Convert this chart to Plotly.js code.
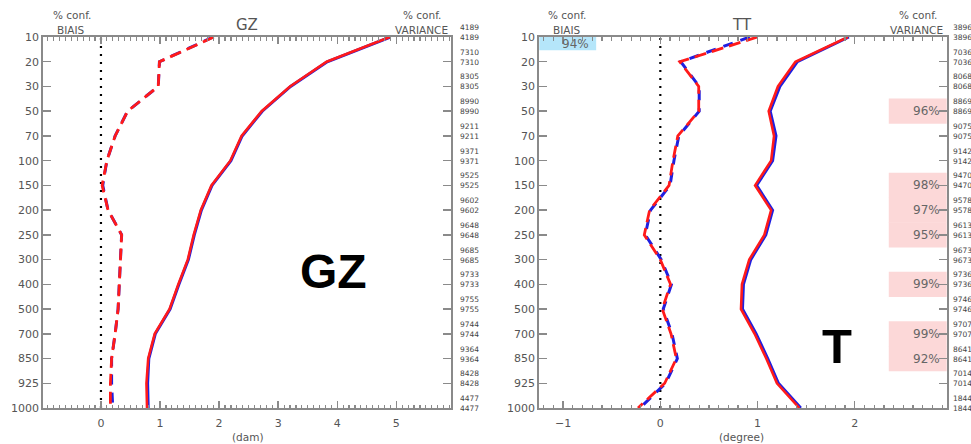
<!DOCTYPE html>
<html>
<head>
<meta charset="utf-8">
<script src="https://cdn.plot.ly/plotly-3.0.1.min.js"></script>
<style>
  html, body { margin: 0; padding: 0; background: #fff; }
  #chart { width: 971px; height: 444px; }
</style>
</head>
<body>
<div id="chart"></div>
<script>
// Pressure levels (hPa), top to bottom
const levels = ['10','20','30','50','70','100','150','200','250','300','400','500','700','850','925','1000'];

// Observation counts per level (two experiments)
const countsGZ = ['4189','7310','8305','8990','9211','9371','9525','9602','9648','9685','9733','9755','9744','9364','8428','4477'];
const countsTT = ['3896','7036','8068','8869','9075','9142','9470','9578','9613','9673','9736','9746','9707','8641','7014','1844'];

// GZ (dam): standard deviation and bias, experiment A (blue) and B (red)
const gzStdBlue  = [4.90, 3.83, 3.21, 2.73, 2.39, 2.20, 1.88, 1.70, 1.58, 1.48, 1.32, 1.17, 0.92, 0.81, 0.79, 0.80];
const gzStdRed   = [4.89, 3.82, 3.20, 2.72, 2.38, 2.19, 1.87, 1.69, 1.57, 1.47, 1.31, 1.16, 0.91, 0.80, 0.77, 0.78];
const gzBiasBlue = [1.90, 0.99, 0.97, 0.45, 0.24, 0.10, 0.03, 0.12, 0.35, 0.33, 0.31, 0.29, 0.24, 0.18, 0.18, 0.20];
const gzBiasRed  = [1.91, 0.99, 0.97, 0.45, 0.24, 0.10, 0.02, 0.12, 0.35, 0.33, 0.31, 0.29, 0.24, 0.18, 0.16, 0.16];

// TT (degree): standard deviation and bias
const ttStdBlue  = [1.94, 1.41, 1.23, 1.13, 1.19, 1.155, 0.99, 1.155, 1.085, 0.93, 0.855, 0.845, 0.985, 1.105, 1.215, 1.445];
const ttStdRed   = [1.93, 1.39, 1.21, 1.115, 1.17, 1.14, 0.975, 1.14, 1.07, 0.915, 0.84, 0.83, 0.97, 1.09, 1.20, 1.43];
const ttBiasBlue = [0.92, 0.21, 0.40, 0.40, 0.19, 0.14, 0.10, -0.10, -0.155, 0.01, 0.115, 0.03, 0.12, 0.175, 0.055, -0.21];
const ttBiasRed  = [1.00, 0.20, 0.395, 0.395, 0.18, 0.13, 0.09, -0.11, -0.165, 0.00, 0.105, 0.02, 0.11, 0.165, 0.045, -0.23];

// Significance of differences for TT (level -> % confidence)
const ttVarConfLevels = ['50','150','200','250','400','700','850'];
const ttVarConfValues = [96, 98, 97, 95, 99, 99, 92];
const ttBiasConfLevels = ['10'];
const ttBiasConfValues = [94];

const levelIndex = levels.map((_, i) => i);
const idx = lv => levels.indexOf(lv);

const BLUE = '#1f1fe0', RED = '#ff1a1a';
const FRAME = '#8a8a8a', TXT = '#555';
const FONT = 'DejaVu Sans, sans-serif';

function line(x, xa, ya, color, dash, w) {
  return {
    x: x, y: levelIndex, xaxis: xa, yaxis: ya, type: 'scatter', mode: 'lines',
    line: { color: color, width: w, dash: dash }, hoverinfo: 'skip', showlegend: false
  };
}

const data = [
  line(gzStdBlue, 'x', 'y', BLUE, 'solid', 3),
  line(gzStdRed, 'x', 'y', RED, 'solid', 2.6),
  line(gzBiasBlue, 'x', 'y', BLUE, '10px,8px', 3),
  line(gzBiasRed, 'x', 'y', RED, '12px,6px', 2.8),
  line(ttStdBlue, 'x2', 'y2', BLUE, 'solid', 3),
  line(ttStdRed, 'x2', 'y2', RED, 'solid', 2.6),
  line(ttBiasBlue, 'x2', 'y2', BLUE, '10px,8px', 3),
  line(ttBiasRed, 'x2', 'y2', RED, '12px,6px', 2.8)
];

function xAxis(domain, range, anchor) {
  return {
    domain: domain, range: range, anchor: anchor,
    tickmode: 'linear', dtick: 1, tick0: 0,
    ticks: 'inside', ticklen: 7, tickwidth: 1.5, tickcolor: FRAME,
    minor: { dtick: 0.1, tick0: 0, ticks: 'inside', ticklen: 3.5, tickwidth: 1.2, tickcolor: FRAME },
    showline: true, linecolor: FRAME, linewidth: 2, mirror: 'ticks',
    showgrid: false, zeroline: false,
    tickfont: { family: FONT, size: 11, color: TXT },
    ticklabelstandoff: 4
  };
}
function yAxis(anchor) {
  return {
    domain: [0, 1], range: [15, 0], anchor: anchor,
    tickmode: 'array', tickvals: levelIndex, ticktext: levels,
    ticks: 'inside', ticklen: 8, tickwidth: 1.5, tickcolor: FRAME,
    showline: true, linecolor: FRAME, linewidth: 2, mirror: 'ticks',
    showgrid: false, zeroline: false,
    tickfont: { family: FONT, size: 11, color: TXT }
  };
}

const shapes = [];
const annotations = [];

// Significance boxes (drawn beneath the curves)
ttVarConfLevels.forEach((lv, k) => {
  const i = idx(lv);
  shapes.push({ type: 'rect', xref: 'x2', yref: 'y2', x0: 2.35, x1: 2.95, y0: i - 0.51, y1: i + 0.51,
    fillcolor: '#fcd8d8', line: { width: 0 }, layer: 'below' });
  annotations.push({ xref: 'x2', yref: 'y2', x: 2.9, y: i, xanchor: 'right', yanchor: 'middle',
    text: ttVarConfValues[k] + '%', showarrow: false, font: { family: FONT, size: 12, color: '#666' } });
});
ttBiasConfLevels.forEach((lv, k) => {
  const i = idx(lv);
  shapes.push({ type: 'rect', xref: 'x2', yref: 'y2', x0: -1.25, x1: -0.66, y0: i - 0.5, y1: i + 0.54,
    fillcolor: '#b5e6fa', line: { width: 0 }, layer: 'below' });
  annotations.push({ xref: 'x2', yref: 'y2', x: -0.71, y: i, xanchor: 'right', yanchor: 'middle', yshift: -7,
    text: ttBiasConfValues[k] + '%', showarrow: false, font: { family: FONT, size: 12, color: '#666' } });
});

// Dotted zero lines
[['x', 'y domain'], ['x2', 'y2 domain']].forEach(([xr, yr]) => {
  shapes.push({ type: 'line', xref: xr, yref: yr, x0: 0, x1: 0, y0: 0, y1: 1,
    line: { color: '#000', width: 2.2, dash: '2px,6px' }, layer: 'below' });
});

// Observation counts on the right of each panel
function counts(arr, xpaper) {
  arr.forEach((c, i) => {
    annotations.push({ xref: 'paper', yref: i < 0 ? 'y' : (xpaper > 0.5 ? 'y2' : 'y'), x: xpaper, y: i,
      xanchor: 'left', yanchor: 'middle', yshift: 4.5, align: 'left',
      text: c + '<br>' + c, showarrow: false, font: { family: FONT, size: 7.5, color: '#444' } });
  });
}
counts(countsGZ, 458 / 971);
counts(countsTT, 951 / 971);

// Panel headers
function header(text, xpx, shift, size) {
  annotations.push({ xref: 'paper', yref: 'paper', x: xpx / 971, y: 1, xanchor: 'center', yanchor: 'middle',
    yshift: shift, text: text, showarrow: false, font: { family: FONT, size: size || 10.5, color: TXT } });
}
header('% conf.', 72, 22); header('BIAIS', 71, 7.5);
header('GZ', 247, 12, 15);
header('% conf.', 422, 22); header('VARIANCE', 421, 7.5);
header('% conf.', 567, 22); header('BIAIS', 567, 7.5);
header('TT', 742, 12, 15);
header('% conf.', 918, 22); header('VARIANCE', 916, 7.5);

// Unit labels under the axes
annotations.push({ xref: 'x', yref: 'paper', x: 2.49, y: 0, yshift: -29, xanchor: 'center', yanchor: 'middle',
  text: '(dam)', showarrow: false, font: { family: FONT, size: 10.5, color: TXT } });
annotations.push({ xref: 'x2', yref: 'paper', x: 0.83, y: 0, yshift: -29, xanchor: 'center', yanchor: 'middle',
  text: '(degree)', showarrow: false, font: { family: FONT, size: 10.5, color: TXT } });

// Variable names inside the panels
annotations.push({ xref: 'x', yref: 'y', x: 3.94, y: 9.48, text: '<b>GZ</b>', showarrow: false,
  font: { family: 'Liberation Sans, Arial, sans-serif', size: 48, color: '#000' } });
annotations.push({ xref: 'x2', yref: 'y2', x: 1.82, y: 12.5, text: '<b>T</b>', showarrow: false,
  font: { family: 'Liberation Sans, Arial, sans-serif', size: 49, color: '#000' } });

const layout = {
  width: 971, height: 444,
  margin: { l: 0, r: 0, t: 37, b: 36 },
  paper_bgcolor: '#fff', plot_bgcolor: 'rgba(0,0,0,0)',
  showlegend: false,
  xaxis: xAxis([43.3 / 971, 450.7 / 971], [-0.976, 5.92], 'y'),
  yaxis: yAxis('x'),
  xaxis2: xAxis([539.3 / 971, 946.7 / 971], [-1.245, 2.946], 'y2'),
  yaxis2: yAxis('x2'),
  shapes: shapes,
  annotations: annotations
};

Plotly.newPlot('chart', data, layout, { staticPlot: true, displayModeBar: false });
</script>
</body>
</html>
